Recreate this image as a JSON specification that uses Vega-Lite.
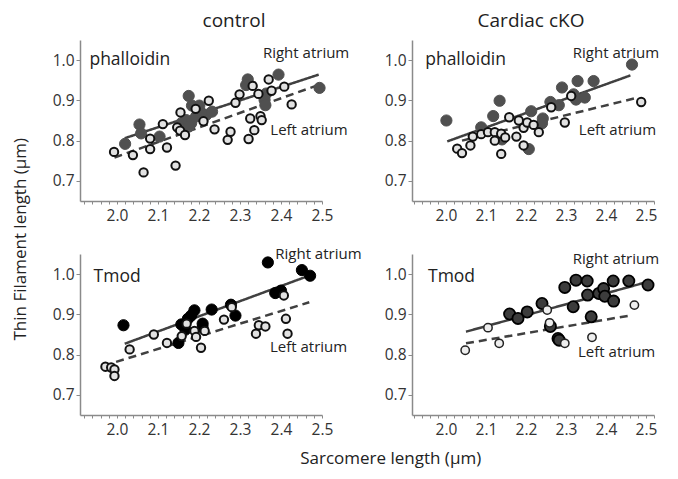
{
  "$schema": "https://vega.github.io/schema/vega-lite/v6.json",
  "background": "white",
  "padding": {"left": 12, "top": 12, "right": 5, "bottom": 5},
  "config": {
    "view": {"stroke": null},
    "font": "Open Sans",
    "axis": {"grid": false, "domainColor": "#8a8a8a", "domainWidth": 1.5, "tickColor": "#8a8a8a", "tickWidth": 1, "labelFont": "Open Sans", "labelFontSize": 15.5, "labelColor": "#333333", "title": null},
    "axisX": {"tickSize": 3, "labelPadding": 4, "labelOverlap": false, "labelFlush": false, "labelBound": false},
    "axisY": {"tickSize": 4, "labelPadding": 2},
    "title": {"font": "Open Sans", "fontWeight": "normal", "color": "#222222"}
  },
  "datasets": {
    "pts": [
      {"panel": "TL", "atrium": "Right", "x": 2.020, "y": 0.792},
      {"panel": "TL", "atrium": "Right", "x": 2.055, "y": 0.840},
      {"panel": "TL", "atrium": "Right", "x": 2.059, "y": 0.818},
      {"panel": "TL", "atrium": "Right", "x": 2.104, "y": 0.810},
      {"panel": "TL", "atrium": "Right", "x": 2.175, "y": 0.911},
      {"panel": "TL", "atrium": "Right", "x": 2.183, "y": 0.887},
      {"panel": "TL", "atrium": "Right", "x": 2.201, "y": 0.887},
      {"panel": "TL", "atrium": "Right", "x": 2.169, "y": 0.851},
      {"panel": "TL", "atrium": "Right", "x": 2.181, "y": 0.843},
      {"panel": "TL", "atrium": "Right", "x": 2.193, "y": 0.860},
      {"panel": "TL", "atrium": "Right", "x": 2.218, "y": 0.864},
      {"panel": "TL", "atrium": "Right", "x": 2.232, "y": 0.872},
      {"panel": "TL", "atrium": "Right", "x": 2.157, "y": 0.843},
      {"panel": "TL", "atrium": "Right", "x": 2.175, "y": 0.835},
      {"panel": "TL", "atrium": "Right", "x": 2.205, "y": 0.870},
      {"panel": "TL", "atrium": "Right", "x": 2.319, "y": 0.952},
      {"panel": "TL", "atrium": "Right", "x": 2.315, "y": 0.938},
      {"panel": "TL", "atrium": "Right", "x": 2.394, "y": 0.964},
      {"panel": "TL", "atrium": "Right", "x": 2.360, "y": 0.901},
      {"panel": "TL", "atrium": "Right", "x": 2.362, "y": 0.888},
      {"panel": "TL", "atrium": "Right", "x": 2.364, "y": 0.917},
      {"panel": "TL", "atrium": "Right", "x": 2.494, "y": 0.931},
      {"panel": "TL", "atrium": "Left", "x": 1.993, "y": 0.772},
      {"panel": "TL", "atrium": "Left", "x": 2.039, "y": 0.764},
      {"panel": "TL", "atrium": "Left", "x": 2.065, "y": 0.721},
      {"panel": "TL", "atrium": "Left", "x": 2.081, "y": 0.805},
      {"panel": "TL", "atrium": "Left", "x": 2.081, "y": 0.779},
      {"panel": "TL", "atrium": "Left", "x": 2.112, "y": 0.841},
      {"panel": "TL", "atrium": "Left", "x": 2.122, "y": 0.783},
      {"panel": "TL", "atrium": "Left", "x": 2.143, "y": 0.738},
      {"panel": "TL", "atrium": "Left", "x": 2.155, "y": 0.870},
      {"panel": "TL", "atrium": "Left", "x": 2.147, "y": 0.833},
      {"panel": "TL", "atrium": "Left", "x": 2.154, "y": 0.825},
      {"panel": "TL", "atrium": "Left", "x": 2.166, "y": 0.814},
      {"panel": "TL", "atrium": "Left", "x": 2.192, "y": 0.879},
      {"panel": "TL", "atrium": "Left", "x": 2.224, "y": 0.899},
      {"panel": "TL", "atrium": "Left", "x": 2.211, "y": 0.848},
      {"panel": "TL", "atrium": "Left", "x": 2.238, "y": 0.828},
      {"panel": "TL", "atrium": "Left", "x": 2.277, "y": 0.822},
      {"panel": "TL", "atrium": "Left", "x": 2.270, "y": 0.802},
      {"panel": "TL", "atrium": "Left", "x": 2.289, "y": 0.894},
      {"panel": "TL", "atrium": "Left", "x": 2.299, "y": 0.915},
      {"panel": "TL", "atrium": "Left", "x": 2.321, "y": 0.804},
      {"panel": "TL", "atrium": "Left", "x": 2.325, "y": 0.855},
      {"panel": "TL", "atrium": "Left", "x": 2.331, "y": 0.936},
      {"panel": "TL", "atrium": "Left", "x": 2.335, "y": 0.826},
      {"panel": "TL", "atrium": "Left", "x": 2.345, "y": 0.916},
      {"panel": "TL", "atrium": "Left", "x": 2.350, "y": 0.861},
      {"panel": "TL", "atrium": "Left", "x": 2.353, "y": 0.851},
      {"panel": "TL", "atrium": "Left", "x": 2.370, "y": 0.952},
      {"panel": "TL", "atrium": "Left", "x": 2.377, "y": 0.924},
      {"panel": "TL", "atrium": "Left", "x": 2.408, "y": 0.934},
      {"panel": "TL", "atrium": "Left", "x": 2.426, "y": 0.890},

      {"panel": "TR", "atrium": "Right", "x": 2.001, "y": 0.850},
      {"panel": "TR", "atrium": "Right", "x": 2.088, "y": 0.833},
      {"panel": "TR", "atrium": "Right", "x": 2.118, "y": 0.861},
      {"panel": "TR", "atrium": "Right", "x": 2.134, "y": 0.899},
      {"panel": "TR", "atrium": "Right", "x": 2.140, "y": 0.803},
      {"panel": "TR", "atrium": "Right", "x": 2.213, "y": 0.873},
      {"panel": "TR", "atrium": "Right", "x": 2.207, "y": 0.779},
      {"panel": "TR", "atrium": "Right", "x": 2.242, "y": 0.855},
      {"panel": "TR", "atrium": "Right", "x": 2.240, "y": 0.843},
      {"panel": "TR", "atrium": "Right", "x": 2.261, "y": 0.896},
      {"panel": "TR", "atrium": "Right", "x": 2.282, "y": 0.888},
      {"panel": "TR", "atrium": "Right", "x": 2.290, "y": 0.932},
      {"panel": "TR", "atrium": "Right", "x": 2.319, "y": 0.915},
      {"panel": "TR", "atrium": "Right", "x": 2.325, "y": 0.902},
      {"panel": "TR", "atrium": "Right", "x": 2.329, "y": 0.948},
      {"panel": "TR", "atrium": "Right", "x": 2.347, "y": 0.907},
      {"panel": "TR", "atrium": "Right", "x": 2.369, "y": 0.948},
      {"panel": "TR", "atrium": "Right", "x": 2.465, "y": 0.989},
      {"panel": "TR", "atrium": "Left", "x": 2.028, "y": 0.780},
      {"panel": "TR", "atrium": "Left", "x": 2.040, "y": 0.769},
      {"panel": "TR", "atrium": "Left", "x": 2.061, "y": 0.788},
      {"panel": "TR", "atrium": "Left", "x": 2.067, "y": 0.810},
      {"panel": "TR", "atrium": "Left", "x": 2.088, "y": 0.816},
      {"panel": "TR", "atrium": "Left", "x": 2.105, "y": 0.821},
      {"panel": "TR", "atrium": "Left", "x": 2.122, "y": 0.821},
      {"panel": "TR", "atrium": "Left", "x": 2.122, "y": 0.800},
      {"panel": "TR", "atrium": "Left", "x": 2.138, "y": 0.817},
      {"panel": "TR", "atrium": "Left", "x": 2.148, "y": 0.808},
      {"panel": "TR", "atrium": "Left", "x": 2.138, "y": 0.767},
      {"panel": "TR", "atrium": "Left", "x": 2.158, "y": 0.858},
      {"panel": "TR", "atrium": "Left", "x": 2.176, "y": 0.810},
      {"panel": "TR", "atrium": "Left", "x": 2.182, "y": 0.850},
      {"panel": "TR", "atrium": "Left", "x": 2.194, "y": 0.832},
      {"panel": "TR", "atrium": "Left", "x": 2.194, "y": 0.788},
      {"panel": "TR", "atrium": "Left", "x": 2.203, "y": 0.845},
      {"panel": "TR", "atrium": "Left", "x": 2.219, "y": 0.839},
      {"panel": "TR", "atrium": "Left", "x": 2.232, "y": 0.821},
      {"panel": "TR", "atrium": "Left", "x": 2.263, "y": 0.883},
      {"panel": "TR", "atrium": "Left", "x": 2.297, "y": 0.845},
      {"panel": "TR", "atrium": "Left", "x": 2.313, "y": 0.911},
      {"panel": "TR", "atrium": "Left", "x": 2.488, "y": 0.896},

      {"panel": "BL", "atrium": "Right", "x": 2.016, "y": 0.873},
      {"panel": "BL", "atrium": "Right", "x": 2.150, "y": 0.829},
      {"panel": "BL", "atrium": "Right", "x": 2.157, "y": 0.875},
      {"panel": "BL", "atrium": "Right", "x": 2.167, "y": 0.862},
      {"panel": "BL", "atrium": "Right", "x": 2.173, "y": 0.889},
      {"panel": "BL", "atrium": "Right", "x": 2.189, "y": 0.910},
      {"panel": "BL", "atrium": "Right", "x": 2.181, "y": 0.897},
      {"panel": "BL", "atrium": "Right", "x": 2.209, "y": 0.877},
      {"panel": "BL", "atrium": "Right", "x": 2.209, "y": 0.867},
      {"panel": "BL", "atrium": "Right", "x": 2.231, "y": 0.912},
      {"panel": "BL", "atrium": "Right", "x": 2.278, "y": 0.924},
      {"panel": "BL", "atrium": "Right", "x": 2.289, "y": 0.897},
      {"panel": "BL", "atrium": "Right", "x": 2.368, "y": 1.029},
      {"panel": "BL", "atrium": "Right", "x": 2.386, "y": 0.953},
      {"panel": "BL", "atrium": "Right", "x": 2.400, "y": 0.959},
      {"panel": "BL", "atrium": "Right", "x": 2.451, "y": 1.010},
      {"panel": "BL", "atrium": "Right", "x": 2.471, "y": 0.996},
      {"panel": "BL", "atrium": "Left", "x": 1.972, "y": 0.770},
      {"panel": "BL", "atrium": "Left", "x": 1.986, "y": 0.768},
      {"panel": "BL", "atrium": "Left", "x": 1.994, "y": 0.763},
      {"panel": "BL", "atrium": "Left", "x": 1.994, "y": 0.747},
      {"panel": "BL", "atrium": "Left", "x": 2.031, "y": 0.813},
      {"panel": "BL", "atrium": "Left", "x": 2.090, "y": 0.850},
      {"panel": "BL", "atrium": "Left", "x": 2.122, "y": 0.829},
      {"panel": "BL", "atrium": "Left", "x": 2.158, "y": 0.846},
      {"panel": "BL", "atrium": "Left", "x": 2.170, "y": 0.877},
      {"panel": "BL", "atrium": "Left", "x": 2.189, "y": 0.859},
      {"panel": "BL", "atrium": "Left", "x": 2.193, "y": 0.844},
      {"panel": "BL", "atrium": "Left", "x": 2.214, "y": 0.859},
      {"panel": "BL", "atrium": "Left", "x": 2.205, "y": 0.817},
      {"panel": "BL", "atrium": "Left", "x": 2.261, "y": 0.887},
      {"panel": "BL", "atrium": "Left", "x": 2.280, "y": 0.918},
      {"panel": "BL", "atrium": "Left", "x": 2.339, "y": 0.852},
      {"panel": "BL", "atrium": "Left", "x": 2.346, "y": 0.873},
      {"panel": "BL", "atrium": "Left", "x": 2.362, "y": 0.870},
      {"panel": "BL", "atrium": "Left", "x": 2.407, "y": 0.947},
      {"panel": "BL", "atrium": "Left", "x": 2.412, "y": 0.889},
      {"panel": "BL", "atrium": "Left", "x": 2.416, "y": 0.852},

      {"panel": "BR", "atrium": "Right", "x": 2.159, "y": 0.901},
      {"panel": "BR", "atrium": "Right", "x": 2.180, "y": 0.890},
      {"panel": "BR", "atrium": "Right", "x": 2.203, "y": 0.906},
      {"panel": "BR", "atrium": "Right", "x": 2.240, "y": 0.927},
      {"panel": "BR", "atrium": "Right", "x": 2.261, "y": 0.870},
      {"panel": "BR", "atrium": "Right", "x": 2.280, "y": 0.840},
      {"panel": "BR", "atrium": "Right", "x": 2.283, "y": 0.836},
      {"panel": "BR", "atrium": "Right", "x": 2.297, "y": 0.967},
      {"panel": "BR", "atrium": "Right", "x": 2.318, "y": 0.919},
      {"panel": "BR", "atrium": "Right", "x": 2.325, "y": 0.985},
      {"panel": "BR", "atrium": "Right", "x": 2.353, "y": 0.983},
      {"panel": "BR", "atrium": "Right", "x": 2.354, "y": 0.948},
      {"panel": "BR", "atrium": "Right", "x": 2.363, "y": 0.894},
      {"panel": "BR", "atrium": "Right", "x": 2.382, "y": 0.952},
      {"panel": "BR", "atrium": "Right", "x": 2.394, "y": 0.964},
      {"panel": "BR", "atrium": "Right", "x": 2.397, "y": 0.945},
      {"panel": "BR", "atrium": "Right", "x": 2.419, "y": 0.933},
      {"panel": "BR", "atrium": "Right", "x": 2.418, "y": 0.983},
      {"panel": "BR", "atrium": "Right", "x": 2.457, "y": 0.983},
      {"panel": "BR", "atrium": "Right", "x": 2.505, "y": 0.973},
      {"panel": "BR", "atrium": "Left", "x": 2.048, "y": 0.811},
      {"panel": "BR", "atrium": "Left", "x": 2.105, "y": 0.867},
      {"panel": "BR", "atrium": "Left", "x": 2.133, "y": 0.828},
      {"panel": "BR", "atrium": "Left", "x": 2.253, "y": 0.911},
      {"panel": "BR", "atrium": "Left", "x": 2.259, "y": 0.879},
      {"panel": "BR", "atrium": "Left", "x": 2.297, "y": 0.828},
      {"panel": "BR", "atrium": "Left", "x": 2.365, "y": 0.843},
      {"panel": "BR", "atrium": "Left", "x": 2.471, "y": 0.923}
    ],
    "fits": [
      {"panel": "TL", "atrium": "Right", "x": 2.019, "y": 0.806},
      {"panel": "TL", "atrium": "Right", "x": 2.492, "y": 0.964},
      {"panel": "TL", "atrium": "Left", "x": 1.994, "y": 0.758},
      {"panel": "TL", "atrium": "Left", "x": 2.485, "y": 0.936},
      {"panel": "TR", "atrium": "Right", "x": 2.003, "y": 0.798},
      {"panel": "TR", "atrium": "Right", "x": 2.461, "y": 0.962},
      {"panel": "TR", "atrium": "Left", "x": 2.040, "y": 0.800},
      {"panel": "TR", "atrium": "Left", "x": 2.480, "y": 0.907},
      {"panel": "BL", "atrium": "Right", "x": 2.019, "y": 0.827},
      {"panel": "BL", "atrium": "Right", "x": 2.468, "y": 0.996},
      {"panel": "BL", "atrium": "Left", "x": 1.998, "y": 0.782},
      {"panel": "BL", "atrium": "Left", "x": 2.469, "y": 0.930},
      {"panel": "BR", "atrium": "Right", "x": 2.050, "y": 0.857},
      {"panel": "BR", "atrium": "Right", "x": 2.505, "y": 0.981},
      {"panel": "BR", "atrium": "Left", "x": 2.050, "y": 0.828},
      {"panel": "BR", "atrium": "Left", "x": 2.465, "y": 0.898}
    ],
    "notes": [
      {"panel": "TL", "kind": "stain", "label": "phalloidin", "x": 1.933, "y": 1.0},
      {"panel": "TL", "kind": "side", "label": "Right atrium", "x": 2.356, "y": 1.018},
      {"panel": "TL", "kind": "side", "label": "Left atrium", "x": 2.374, "y": 0.826},
      {"panel": "TR", "kind": "stain", "label": "phalloidin", "x": 1.948, "y": 1.0},
      {"panel": "TR", "kind": "side", "label": "Right atrium", "x": 2.317, "y": 1.018},
      {"panel": "TR", "kind": "side", "label": "Left atrium", "x": 2.332, "y": 0.826},
      {"panel": "BL", "kind": "stain", "label": "Tmod", "x": 1.943, "y": 0.992},
      {"panel": "BL", "kind": "side", "label": "Right atrium", "x": 2.386, "y": 1.051},
      {"panel": "BL", "kind": "side", "label": "Left atrium", "x": 2.373, "y": 0.818},
      {"panel": "BR", "kind": "stain", "label": "Tmod", "x": 1.955, "y": 0.992},
      {"panel": "BR", "kind": "side", "label": "Right atrium", "x": 2.317, "y": 1.037},
      {"panel": "BR", "kind": "side", "label": "Left atrium", "x": 2.330, "y": 0.807}
    ]
  },
  "title": {"text": "Thin Filament length (μm)", "orient": "left", "fontSize": 17, "offset": 22, "anchor": "middle"},
  "vconcat": [
    {
      "title": {"text": "Sarcomere length (μm)", "orient": "bottom", "fontSize": 17, "offset": 13, "anchor": "middle", "dx": 35},
      "bounds": "flush",
      "columns": 2,
      "spacing": {"row": 53, "column": 90},
      "concat": [
        {
          "width": 242, "height": 161,
          "title": {"text": "control", "fontSize": 19, "anchor": "middle", "dx": 33, "offset": 9},
          "encoding": {
            "x": {"field": "x", "type": "quantitative", "scale": {"domain": [1.91, 2.5], "nice": false, "zero": false},
                  "axis": {"values": [1.92,1.94,1.96,1.98,2.0,2.02,2.04,2.06,2.08,2.1,2.12,2.14,2.16,2.18,2.2,2.22,2.24,2.26,2.28,2.3,2.32,2.34,2.36,2.38,2.4,2.42,2.44,2.46,2.48,2.5],
                           "labelExpr": "abs(datum.value*10-round(datum.value*10))<0.01 ? format(datum.value,'.1f') : ''"}},
            "y": {"field": "y", "type": "quantitative", "scale": {"domain": [0.65, 1.05], "nice": false, "zero": false},
                  "axis": {"values": [0.7, 0.8, 0.9, 1.0], "format": ".1f"}}
          },
          "layer": [
            {"data": {"name": "fits"}, "transform": [{"filter": "datum.panel==='TL'"}],
             "mark": {"type": "line", "color": "#404040", "strokeWidth": 2.5},
             "encoding": {"detail": {"field": "atrium"}, "strokeDash": {"field": "atrium", "type": "nominal", "scale": {"domain": ["Right", "Left"], "range": [[1, 0], [8, 5]]}, "legend": null}}},
            {"data": {"name": "pts"}, "transform": [{"filter": "datum.panel==='TL' && datum.atrium==='Right'"}],
             "mark": {"type": "circle", "size": 125, "fill": "#505050", "fillOpacity": 1, "stroke": "#505050", "strokeWidth": 1}},
            {"data": {"name": "pts"}, "transform": [{"filter": "datum.panel==='TL' && datum.atrium==='Left'"}],
             "mark": {"type": "circle", "size": 70, "fill": "#e2e2e2", "fillOpacity": 1, "stroke": "#111111", "strokeWidth": 2}},
            {"data": {"name": "notes"}, "transform": [{"filter": "datum.panel==='TL' && datum.kind==='stain'"}],
             "mark": {"type": "text", "align": "left", "baseline": "middle", "color": "#222222", "fontSize": 17.5},
             "encoding": {"text": {"field": "label"}}},
            {"data": {"name": "notes"}, "transform": [{"filter": "datum.panel==='TL' && datum.kind==='side'"}],
             "mark": {"type": "text", "align": "left", "baseline": "middle", "color": "#222222", "fontSize": 15},
             "encoding": {"text": {"field": "label"}}}
          ]
        },
        {
          "width": 242, "height": 161,
          "title": {"text": "Cardiac cKO", "fontSize": 19, "anchor": "middle", "dx": -2, "offset": 9},
          "encoding": {
            "x": {"field": "x", "type": "quantitative", "scale": {"domain": [1.915, 2.52], "nice": false, "zero": false},
                  "axis": {"values": [1.92,1.94,1.96,1.98,2.0,2.02,2.04,2.06,2.08,2.1,2.12,2.14,2.16,2.18,2.2,2.22,2.24,2.26,2.28,2.3,2.32,2.34,2.36,2.38,2.4,2.42,2.44,2.46,2.48,2.5,2.52],
                           "labelExpr": "abs(datum.value*10-round(datum.value*10))<0.01 ? format(datum.value,'.1f') : ''"}},
            "y": {"field": "y", "type": "quantitative", "scale": {"domain": [0.65, 1.05], "nice": false, "zero": false},
                  "axis": {"values": [0.7, 0.8, 0.9, 1.0], "format": ".1f"}}
          },
          "layer": [
            {"data": {"name": "fits"}, "transform": [{"filter": "datum.panel==='TR'"}],
             "mark": {"type": "line", "color": "#404040", "strokeWidth": 2.5},
             "encoding": {"detail": {"field": "atrium"}, "strokeDash": {"field": "atrium", "type": "nominal", "scale": {"domain": ["Right", "Left"], "range": [[1, 0], [8, 5]]}, "legend": null}}},
            {"data": {"name": "pts"}, "transform": [{"filter": "datum.panel==='TR' && datum.atrium==='Right'"}],
             "mark": {"type": "circle", "size": 125, "fill": "#505050", "fillOpacity": 1, "stroke": "#505050", "strokeWidth": 1}},
            {"data": {"name": "pts"}, "transform": [{"filter": "datum.panel==='TR' && datum.atrium==='Left'"}],
             "mark": {"type": "circle", "size": 70, "fill": "#e2e2e2", "fillOpacity": 1, "stroke": "#111111", "strokeWidth": 2}},
            {"data": {"name": "notes"}, "transform": [{"filter": "datum.panel==='TR' && datum.kind==='stain'"}],
             "mark": {"type": "text", "align": "left", "baseline": "middle", "color": "#222222", "fontSize": 17.5},
             "encoding": {"text": {"field": "label"}}},
            {"data": {"name": "notes"}, "transform": [{"filter": "datum.panel==='TR' && datum.kind==='side'"}],
             "mark": {"type": "text", "align": "left", "baseline": "middle", "color": "#222222", "fontSize": 15},
             "encoding": {"text": {"field": "label"}}}
          ]
        },
        {
          "width": 242, "height": 161,
          "encoding": {
            "x": {"field": "x", "type": "quantitative", "scale": {"domain": [1.91, 2.5], "nice": false, "zero": false},
                  "axis": {"values": [1.92,1.94,1.96,1.98,2.0,2.02,2.04,2.06,2.08,2.1,2.12,2.14,2.16,2.18,2.2,2.22,2.24,2.26,2.28,2.3,2.32,2.34,2.36,2.38,2.4,2.42,2.44,2.46,2.48,2.5],
                           "labelExpr": "abs(datum.value*10-round(datum.value*10))<0.01 ? format(datum.value,'.1f') : ''"}},
            "y": {"field": "y", "type": "quantitative", "scale": {"domain": [0.65, 1.05], "nice": false, "zero": false},
                  "axis": {"values": [0.7, 0.8, 0.9, 1.0], "format": ".1f"}}
          },
          "layer": [
            {"data": {"name": "fits"}, "transform": [{"filter": "datum.panel==='BL'"}],
             "mark": {"type": "line", "color": "#404040", "strokeWidth": 2.5},
             "encoding": {"detail": {"field": "atrium"}, "strokeDash": {"field": "atrium", "type": "nominal", "scale": {"domain": ["Right", "Left"], "range": [[1, 0], [8, 5]]}, "legend": null}}},
            {"data": {"name": "pts"}, "transform": [{"filter": "datum.panel==='BL' && datum.atrium==='Right'"}],
             "mark": {"type": "circle", "size": 125, "fill": "#000000", "fillOpacity": 1, "stroke": "#000000", "strokeWidth": 1}},
            {"data": {"name": "pts"}, "transform": [{"filter": "datum.panel==='BL' && datum.atrium==='Left'"}],
             "mark": {"type": "circle", "size": 70, "fill": "#e2e2e2", "fillOpacity": 1, "stroke": "#111111", "strokeWidth": 2}},
            {"data": {"name": "notes"}, "transform": [{"filter": "datum.panel==='BL' && datum.kind==='stain'"}],
             "mark": {"type": "text", "align": "left", "baseline": "middle", "color": "#222222", "fontSize": 17.5},
             "encoding": {"text": {"field": "label"}}},
            {"data": {"name": "notes"}, "transform": [{"filter": "datum.panel==='BL' && datum.kind==='side'"}],
             "mark": {"type": "text", "align": "left", "baseline": "middle", "color": "#222222", "fontSize": 15},
             "encoding": {"text": {"field": "label"}}}
          ]
        },
        {
          "width": 242, "height": 161,
          "encoding": {
            "x": {"field": "x", "type": "quantitative", "scale": {"domain": [1.915, 2.52], "nice": false, "zero": false},
                  "axis": {"values": [1.92,1.94,1.96,1.98,2.0,2.02,2.04,2.06,2.08,2.1,2.12,2.14,2.16,2.18,2.2,2.22,2.24,2.26,2.28,2.3,2.32,2.34,2.36,2.38,2.4,2.42,2.44,2.46,2.48,2.5,2.52],
                           "labelExpr": "abs(datum.value*10-round(datum.value*10))<0.01 ? format(datum.value,'.1f') : ''"}},
            "y": {"field": "y", "type": "quantitative", "scale": {"domain": [0.65, 1.05], "nice": false, "zero": false},
                  "axis": {"values": [0.7, 0.8, 0.9, 1.0], "format": ".1f"}}
          },
          "layer": [
            {"data": {"name": "fits"}, "transform": [{"filter": "datum.panel==='BR'"}],
             "mark": {"type": "line", "color": "#404040", "strokeWidth": 2.5},
             "encoding": {"detail": {"field": "atrium"}, "strokeDash": {"field": "atrium", "type": "nominal", "scale": {"domain": ["Right", "Left"], "range": [[1, 0], [8, 5]]}, "legend": null}}},
            {"data": {"name": "pts"}, "transform": [{"filter": "datum.panel==='BR' && datum.atrium==='Right'"}],
             "mark": {"type": "circle", "size": 125, "fill": "#3c3c3c", "fillOpacity": 1, "stroke": "#000000", "strokeWidth": 1.8}},
            {"data": {"name": "pts"}, "transform": [{"filter": "datum.panel==='BR' && datum.atrium==='Left'"}],
             "mark": {"type": "circle", "size": 70, "fill": "#eeeeee", "fillOpacity": 1, "stroke": "#222222", "strokeWidth": 1.5}},
            {"data": {"name": "notes"}, "transform": [{"filter": "datum.panel==='BR' && datum.kind==='stain'"}],
             "mark": {"type": "text", "align": "left", "baseline": "middle", "color": "#222222", "fontSize": 17.5},
             "encoding": {"text": {"field": "label"}}},
            {"data": {"name": "notes"}, "transform": [{"filter": "datum.panel==='BR' && datum.kind==='side'"}],
             "mark": {"type": "text", "align": "left", "baseline": "middle", "color": "#222222", "fontSize": 15},
             "encoding": {"text": {"field": "label"}}}
          ]
        }
      ]
    }
  ]
}
